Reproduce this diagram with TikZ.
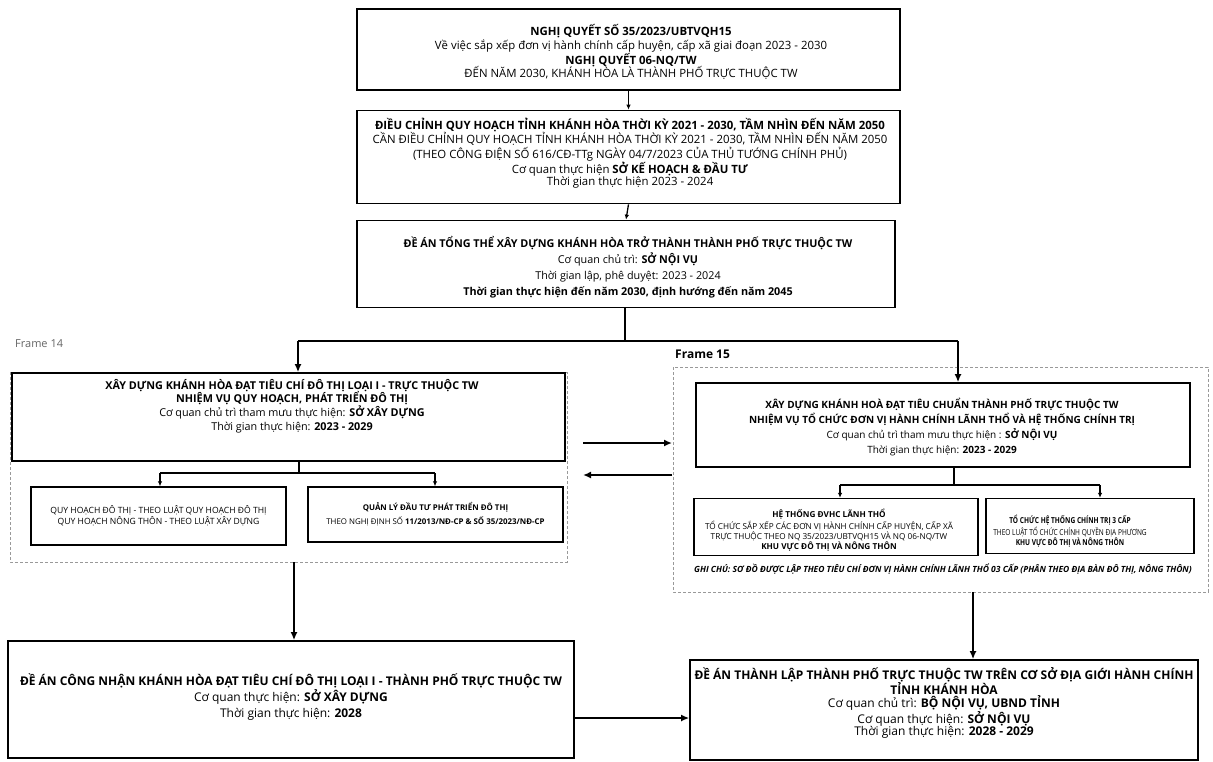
\documentclass[tikz,border=0pt]{standalone}
\usepackage{fontspec}
\setmainfont{Open Sans}
\usetikzlibrary{arrows.meta}
\begin{document}
\begin{tikzpicture}[x=1pt,y=-1pt,
  box/.style={draw=black, line width=1.7pt, align=center, inner sep=0pt},
  sub/.style={draw=black, line width=1.4pt, align=center, inner sep=0pt},
  txt/.style={align=center, inner sep=0pt},
  conn/.style={line width=1.8pt},
  arr/.style={line width=1.8pt, -{Latex[length=8pt,width=7pt]}},
  sarr/.style={line width=1.3pt, -{Latex[length=5pt,width=4.5pt]}},
  framebox/.style={draw=black!40, line width=0.6pt, dash pattern=on 3pt off 2pt},
  flabel/.style={anchor=base west, inner sep=0pt},
]
\useasboundingbox[fill=white] (0,0) rectangle (1213,761);

% frames
\draw[framebox] (10,372) rectangle (567,562);
\draw[framebox] (673,367) rectangle (1208,592);
\node[flabel, text=black!60, font=\fontsize{11}{13}\selectfont] (f14lab) at (15,347) {Frame 14};
\node[flabel, font=\bfseries\fontsize{12}{14}\selectfont] (f15lab) at (675,358) {Frame 15};

% main boxes
\node[box, minimum width=543pt, minimum height=81pt] (B1) at (628.5,49.5) {};
\node[txt, font=\fontsize{11.4}{13.8}\selectfont] (B1t) at (631,52)
{\textbf{NGHỊ QUYẾT SỐ 35/2023/UBTVQH15}\\ Về việc sắp xếp đơn vị hành chính cấp huyện, cấp xã giai đoạn 2023 - 2030\\ \textbf{NGHỊ QUYẾT 06-NQ/TW}\\ ĐẾN NĂM 2030, KHÁNH HÒA LÀ THÀNH PHỐ TRỰC THUỘC TW};

\node[box, minimum width=543pt, minimum height=93pt] (B2) at (628.5,157) {};
\node[txt, font=\fontsize{11.4}{12}\selectfont] (B2t) at (630,153)
{\textbf{ĐIỀU CHỈNH QUY HOẠCH TỈNH KHÁNH HÒA THỜI KỲ 2021 - 2030, TẦM NHÌN ĐẾN NĂM 2050}\\ CẦN ĐIỀU CHỈNH QUY HOẠCH TỈNH KHÁNH HÒA THỜI KỲ 2021 - 2030, TẦM NHÌN ĐẾN NĂM 2050\\ (THEO CÔNG ĐIỆN SỐ 616/CĐ-TTg NGÀY 04/7/2023 CỦA THỦ TƯỚNG CHÍNH PHỦ)\\ Cơ quan thực hiện \textbf{SỞ KẾ HOẠCH \& ĐẦU TƯ}\\ Thời gian thực hiện 2023 - 2024};

\node[box, minimum width=538pt, minimum height=87pt] (B3) at (626,264) {};
\node[txt, font=\fontsize{10.8}{16}\selectfont] (B3t) at (628,267)
{\textbf{ĐỀ ÁN TỔNG THỂ XÂY DỰNG KHÁNH HÒA TRỞ THÀNH THÀNH PHỐ TRỰC THUỘC TW}\\ Cơ quan chủ trì: \textbf{SỞ NỘI VỤ}\\ Thời gian lập, phê duyệt: 2023 - 2024\\ \textbf{Thời gian thực hiện đến năm 2030, định hướng đến năm 2045}};

\node[box, minimum width=553pt, minimum height=88pt] (L) at (288.5,417) {};
\node[txt, font=\fontsize{10.8}{13.8}\selectfont] (Lt) at (292,406)
{\textbf{XÂY DỰNG KHÁNH HÒA ĐẠT TIÊU CHÍ ĐÔ THỊ LOẠI I - TRỰC THUỘC TW}\\ \textbf{NHIỆM VỤ QUY HOẠCH, PHÁT TRIỂN ĐÔ THỊ}\\ Cơ quan chủ trì tham mưu thực hiện: \textbf{SỞ XÂY DỰNG}\\ Thời gian thực hiện: \textbf{2023 - 2029}};

\node[box, minimum width=494pt, minimum height=84pt] (R) at (943,425) {};
\node[txt, font=\fontsize{10}{14.7}\selectfont] (Rt) at (942,427)
{\textbf{XÂY DỰNG KHÁNH HOÀ ĐẠT TIÊU CHUẨN THÀNH PHỐ TRỰC THUỘC TW}\\ \textbf{NHIỆM VỤ TỔ CHỨC ĐƠN VỊ HÀNH CHÍNH LÃNH THỔ VÀ HỆ THỐNG CHÍNH TRỊ}\\ Cơ quan chủ trì tham mưu thực hiện : \textbf{SỞ NỘI VỤ}\\ Thời gian thực hiện: \textbf{2023 - 2029}};

% sub boxes
\node[sub, minimum width=255pt, minimum height=58pt, font=\fontsize{8.6}{11}\selectfont] (L1) at (158.5,516)
{QUY HOẠCH ĐÔ THỊ - THEO LUẬT QUY HOẠCH ĐÔ THỊ\\ QUY HOẠCH NÔNG THÔN - THEO LUẬT XÂY DỰNG};
\node[sub, minimum width=255pt, minimum height=55pt, font=\fontsize{7.9}{14}\selectfont] (L2) at (435.5,514.5)
{\textbf{QUẢN LÝ ĐẦU TƯ PHÁT TRIỂN ĐÔ THỊ}\\ THEO NGHỊ ĐỊNH SỐ \textbf{11/2013/NĐ-CP \& SỐ 35/2023/NĐ-CP}};
\node[sub, minimum width=284pt, minimum height=57pt] (RA) at (836,527) {};
\node[txt, font=\fontsize{8.2}{10}\selectfont] (RAt) at (829,530)
{\textbf{HỆ THỐNG ĐVHC LÃNH THỔ}\\ TỔ CHỨC SẮP XẾP CÁC ĐƠN VỊ HÀNH CHÍNH CẤP HUYỆN, CẤP XÃ\\ TRỰC THUỘC THEO NQ 35/2023/UBTVQH15 VÀ NQ 06-NQ/TW\\ \textbf{KHU VỰC ĐÔ THỊ VÀ NÔNG THÔN}};
\node[sub, minimum width=208pt, minimum height=55pt] (RB) at (1090,526) {};
\node[txt, font=\fontsize{8.2}{10.5}\selectfont] (RBt) at (1070,532)
{\scalebox{0.8}[1]{\begin{tabular}{@{}c@{}}\textbf{TỔ CHỨC HỆ THỐNG CHÍNH TRỊ 3 CẤP}\\ THEO LUẬT TỔ CHỨC CHÍNH QUYỀN ĐỊA PHƯƠNG\\ \textbf{KHU VỰC ĐÔ THỊ VÀ NÔNG THÔN}\end{tabular}}};
\node[anchor=base west, inner sep=0pt, font=\bfseries\itshape\fontsize{8.5}{10}\selectfont] (note) at (694,572)
{GHI CHÚ: SƠ ĐỒ ĐƯỢC LẬP THEO TIÊU CHÍ ĐƠN VỊ HÀNH CHÍNH LÃNH THỔ 03 CẤP (PHÂN THEO ĐỊA BÀN ĐÔ THỊ, NÔNG THÔN)};

% bottom boxes
\node[box, minimum width=566pt, minimum height=117pt] (BL) at (291,699.5) {};
\node[txt, font=\fontsize{12}{16}\selectfont] (BLt) at (291,697)
{\textbf{ĐỀ ÁN CÔNG NHẬN KHÁNH HÒA ĐẠT TIÊU CHÍ ĐÔ THỊ LOẠI I - THÀNH PHỐ TRỰC THUỘC TW}\\ Cơ quan thực hiện: \textbf{SỞ XÂY DỰNG}\\ Thời gian thực hiện: \textbf{2028}};
\node[box, minimum width=508pt, minimum height=100pt] (BR) at (944,710) {};
\node[txt, font=\fontsize{12}{12.8}\selectfont] (BRt) at (944,703)
{\textbf{ĐỀ ÁN THÀNH LẬP THÀNH PHỐ TRỰC THUỘC TW TRÊN CƠ SỞ ĐỊA GIỚI HÀNH CHÍNH}\\ \textbf{TỈNH KHÁNH HÒA}\\ Cơ quan chủ trì: \textbf{BỘ NỘI VỤ, UBND TỈNH}\\ Cơ quan thực hiện: \textbf{SỞ NỘI VỤ}\\ Thời gian thực hiện: \textbf{2028 - 2029}};

% connectors
\draw[sarr] (B1.south) -- (B2.north);
\draw[sarr] (B2.south) -- (B3.north);

\coordinate (j1) at (625,341);
\coordinate (jl) at (298,341);
\coordinate (jr) at (958,341);
\draw[conn] (B3.south -| j1) -- (j1);
\draw[conn] (jl) -- (jr);
\draw[arr] (jl) -- (jl |- L.north);
\draw[arr] (jr) -- (jr |- R.north);

\coordinate (ls) at (299,473);
\coordinate (lsl) at (160,473);
\coordinate (lsr) at (435,473);
\draw[conn] (ls |- L.south) -- (ls);
\draw[conn] (lsl) -- (lsr);
\draw[sarr] (lsl) -- (lsl |- L1.north);
\draw[sarr] (lsr) -- (lsr |- L2.north);

\coordinate (rs) at (954,485);
\coordinate (rsl) at (840,485);
\coordinate (rsr) at (1100,485);
\draw[conn] (rs |- R.south) -- (rs);
\draw[conn] (rsl) -- (rsr);
\draw[sarr] (rsl) -- (rsl |- RA.north);
\draw[sarr] (rsr) -- (rsr |- RB.north);

% frame to frame
\coordinate (f14a) at (583,443);
\coordinate (f15a) at (672,443);
\coordinate (f14b) at (583,475);
\coordinate (f15b) at (672,475);
\draw[arr] (f14a) -- (f15a);
\draw[arr] (f15b) -- (f14b);

\coordinate (f14s) at (294,562);
\coordinate (f15s) at (973,592);
\draw[arr] (f14s) -- (f14s |- BL.north);
\draw[arr] (f15s) -- (f15s |- BR.north);
\draw[arr] (BL.east |- 0,718) -- (BR.west |- 0,718);
\end{tikzpicture}
\end{document}
